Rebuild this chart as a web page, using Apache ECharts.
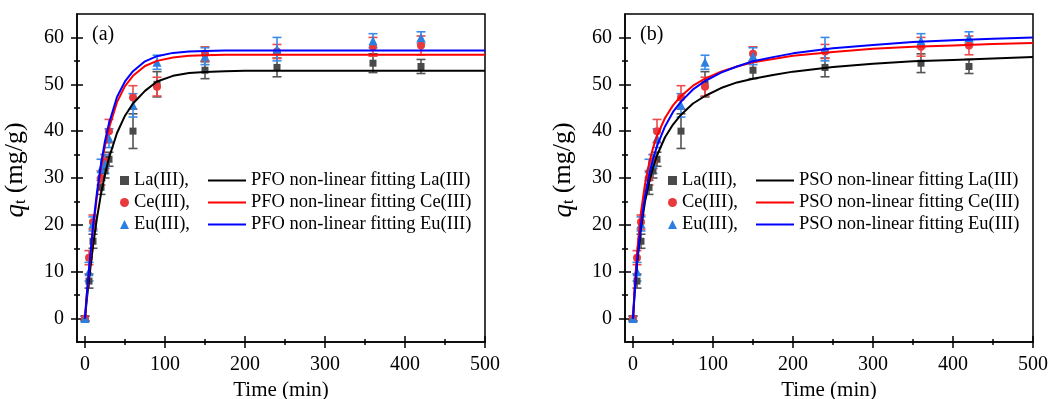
<!DOCTYPE html>
<html><head><meta charset="utf-8">
<script src="https://cdn.jsdelivr.net/npm/echarts@6/dist/echarts.min.js"></script>
<style>html,body{margin:0;padding:0;background:#fff}#c{width:1051px;height:399px}</style>
</head><body><div id="c"></div>
<script>
// ---- data ----
const times = [0, 5, 10, 20, 25, 30, 60, 90, 150, 240, 360, 420];
const La    = [0, 8, 16.5, 28, 31.5, 34, 40, 50, 53, 53.6, 54.5, 53.8];
const Ce    = [0, 13, 20.6, 30, 33.5, 40, 47.2, 49.5, 56.5, 57, 58, 58.3];
const Eu    = [0, 10, 20.2, 32, 33, 38.5, 45.5, 54.7, 56, 57.5, 59.3, 60];
const LaErr = [0.5, 1.5, 1.5, 1.5, 1.5, 1.5, 3.7, 2.7, 1.8, 2.0, 2.0, 1.5];
const CeErr = [0.5, 1.5, 1.5, 1.5, 1.5, 2.5, 2.5, 2.0, 1.5, 1.5, 2.0, 2.0];
const EuErr = [0.5, 2.0, 1.5, 2.0, 2.0, 2.0, 2.5, 1.5, 1.8, 2.5, 1.5, 1.2];

const fitT   = [0, 2, 5, 10, 15, 20, 25, 30, 40, 50, 60, 75, 90, 110, 130, 150, 175, 200, 250, 300, 350, 400, 450, 500];
const pfoLa  = [0, 3.6, 8.3, 15.5, 21.5, 26.6, 30.8, 34.3, 39.6, 43.3, 45.9, 48.6, 50.6, 51.8, 52.4, 52.6, 52.8, 52.9, 52.9, 52.9, 52.9, 52.9, 52.9, 52.9];
const pfoCe  = [0, 4.6, 10.1, 19.0, 26.2, 32.2, 36.9, 40.7, 46.2, 49.6, 51.8, 53.9, 55.0, 55.7, 56.1, 56.2, 56.3, 56.3, 56.3, 56.3, 56.3, 56.3, 56.3, 56.3];
const pfoEu  = [0, 4.7, 10.5, 19.7, 27.0, 33.0, 37.9, 41.7, 47.3, 50.6, 52.8, 54.9, 56.0, 56.7, 57.0, 57.1, 57.2, 57.2, 57.2, 57.2, 57.2, 57.2, 57.2, 57.2];
const psoLa  = [0, 5.3, 11.6, 19.3, 24.9, 29.0, 32.2, 34.8, 38.7, 41.4, 43.5, 45.9, 47.5, 49.2, 50.4, 51.2, 52.0, 52.7, 53.7, 54.4, 54.9, 55.2, 55.5, 55.8];
const psoCe  = [0, 6.5, 14.0, 22.7, 28.7, 33.0, 36.4, 39.0, 42.8, 45.5, 47.5, 49.7, 51.2, 52.7, 53.8, 54.7, 55.4, 56.1, 56.9, 57.6, 58.0, 58.3, 58.6, 58.8];
const psoEu  = [0, 5.5, 12.1, 20.2, 26.1, 30.5, 34.0, 36.8, 41.0, 44.1, 46.3, 48.9, 50.7, 52.5, 53.8, 54.9, 55.8, 56.6, 57.7, 58.4, 59.0, 59.4, 59.7, 60.0];

const xMajor = [0, 100, 200, 300, 400, 500];
const xMinor = [50, 150, 250, 350, 450];
const yMajor = [0, 10, 20, 30, 40, 50, 60];
const yMinor = [5, 15, 25, 35, 45, 55];

const markerNames = ['La(III),', 'Ce(III),', 'Eu(III),'];
const metals = ['La(III)', 'Ce(III)', 'Eu(III)'];

// ---- styles ----
const FONT = '"Liberation Serif", "DejaVu Serif", serif';
const ptColors = ['#4a4a4a', '#e8393c', '#2a7fe0'];
const errColors = ['#555555', '#ee4a4a', '#3a8ce6'];
const lineColors = ['#000000', '#ff0000', '#0000ff'];
const symbols = ['rect', 'circle', 'triangle'];
const symSizes = [7, 8, 9];

const panels = [
  {left: 77, tag: '(a)', model: 'PFO', fits: [pfoLa, pfoCe, pfoEu]},
  {left: 625, tag: '(b)', model: 'PSO', fits: [psoLa, psoCe, psoEu]}
];
const obsData = [La, Ce, Eu];
const errData = [LaErr, CeErr, EuErr];

const grids = [], xAxes = [], yAxes = [], series = [], legends = [], graphics = [];

panels.forEach((p, gi) => {
  grids.push({left: p.left, width: 408, top: 14, height: 328, show: true, borderColor: '#000', borderWidth: 1.5,
    backgroundColor: 'transparent', outerBoundsMode: 'none', containLabel: false});
  const baseX = {type: 'value', gridIndex: gi, position: 'bottom', min: -10, max: 500, splitLine: {show: false}};
  const baseY = {type: 'value', gridIndex: gi, position: 'left', min: -5, max: 65, splitLine: {show: false}};
  const xi = xAxes.length, yi = yAxes.length;
  xAxes.push(Object.assign({}, baseX, {
    axisLine: {show: true, onZero: false, lineStyle: {color: '#000', width: 1.5}},
    axisTick: {show: false},
    axisLabel: {customValues: xMajor, margin: 13, color: '#000', fontFamily: FONT, fontSize: 20},
    name: 'Time (min)', nameLocation: 'middle', nameGap: 35,
    nameTextStyle: {color: '#000', fontFamily: FONT, fontSize: 21}
  }));
  xAxes.push(Object.assign({}, baseX, {offset: -6, axisLine: {show: false, onZero: false}, axisLabel: {show: false},
    axisTick: {show: true, customValues: xMajor, length: 12, lineStyle: {color: '#000', width: 1.5}}}));
  xAxes.push(Object.assign({}, baseX, {offset: -3, axisLine: {show: false, onZero: false}, axisLabel: {show: false},
    axisTick: {show: true, customValues: xMinor, length: 6, lineStyle: {color: '#000', width: 1.5}}}));
  yAxes.push(Object.assign({}, baseY, {
    axisLine: {show: true, onZero: false, lineStyle: {color: '#000', width: 1.5}},
    axisTick: {show: false},
    axisLabel: {customValues: yMajor, margin: 13, color: '#000', fontFamily: FONT, fontSize: 20},
    name: '{q|q}{t|t}{u| (mg/g)}', nameLocation: 'middle', nameGap: 48, nameRotate: 90,
    nameTextStyle: {color: '#000', fontFamily: FONT, fontSize: 26, padding: [0, 0, 0, 16],
      rich: {q: {fontFamily: FONT, fontSize: 27, fontStyle: 'italic', color: '#000'},
             t: {fontFamily: FONT, fontSize: 16, color: '#000', padding: [11, 0, 0, 0]},
             u: {fontFamily: FONT, fontSize: 26, color: '#000'}}}
  }));
  yAxes.push(Object.assign({}, baseY, {offset: -6, axisLine: {show: false, onZero: false}, axisLabel: {show: false},
    axisTick: {show: true, customValues: yMajor, length: 12, lineStyle: {color: '#000', width: 1.5}}}));
  yAxes.push(Object.assign({}, baseY, {offset: -3, axisLine: {show: false, onZero: false}, axisLabel: {show: false},
    axisTick: {show: true, customValues: yMinor, length: 6, lineStyle: {color: '#000', width: 1.5}}}));

  // error bars
  for (let k = 0; k < 3; k++) {
    series.push({
      type: 'custom', xAxisIndex: xi, yAxisIndex: yi, silent: true, z: 2,
      data: times.map((t, i) => [t, obsData[k][i], errData[k][i]]),
      renderItem: (params, api) => {
        const x = api.value(0), y = api.value(1), e = api.value(2);
        const hi = api.coord([x, y + e]), lo = api.coord([x, y - e]);
        const w = 4.5;
        const st = {stroke: errColors[k], lineWidth: 1.6, fill: null};
        return {type: 'group', children: [
          {type: 'line', shape: {x1: hi[0], y1: hi[1], x2: lo[0], y2: lo[1]}, style: st},
          {type: 'line', shape: {x1: hi[0] - w, y1: hi[1], x2: hi[0] + w, y2: hi[1]}, style: st},
          {type: 'line', shape: {x1: lo[0] - w, y1: lo[1], x2: lo[0] + w, y2: lo[1]}, style: st}
        ]};
      }
    });
  }
  // fit lines
  for (let k = 0; k < 3; k++) {
    series.push({
      type: 'line', name: p.model + ' non-linear fitting ' + metals[k], xAxisIndex: xi, yAxisIndex: yi,
      data: fitT.map((t, i) => [t, p.fits[k][i]]), symbol: 'none', showSymbol: false, smooth: false,
      lineStyle: {color: lineColors[k], width: 2}, itemStyle: {color: lineColors[k]}, z: 4, animation: false
    });
  }
  // markers
  for (let k = 0; k < 3; k++) {
    series.push({
      type: 'scatter', name: markerNames[k], xAxisIndex: xi, yAxisIndex: yi,
      data: times.map((t, i) => [t, obsData[k][i]]), symbol: symbols[k], symbolSize: symSizes[k],
      itemStyle: {color: ptColors[k], opacity: 1}, z: 3, animation: false
    });
  }
  legends.push({
    data: markerNames, orient: 'vertical', left: p.left + 38, top: 166, itemWidth: 9, itemHeight: 9, itemGap: 3,
    selectedMode: false, textStyle: {fontFamily: FONT, fontSize: 18.5, color: '#000', lineHeight: 19}
  });
  legends.push({
    data: metals.map(m => ({name: p.model + ' non-linear fitting ' + m, icon: 'rect'})),
    orient: 'vertical', left: p.left + 126, top: 166,
    itemWidth: 38, itemHeight: 2, itemGap: 3, selectedMode: false,
    textStyle: {fontFamily: FONT, fontSize: 18.5, color: '#000', lineHeight: 19}
  });
  graphics.push({type: 'text', left: p.left + 15, top: 25,
    style: {text: p.tag, fontFamily: FONT, fontSize: 20, fill: '#000'}});
});

const chart = echarts.init(document.getElementById('c'), null, {renderer: 'canvas'});
chart.setOption({
  animation: false,
  backgroundColor: '#fff',
  grid: grids, xAxis: xAxes, yAxis: yAxes, series: series, legend: legends, graphic: graphics
});
</script></body></html>
